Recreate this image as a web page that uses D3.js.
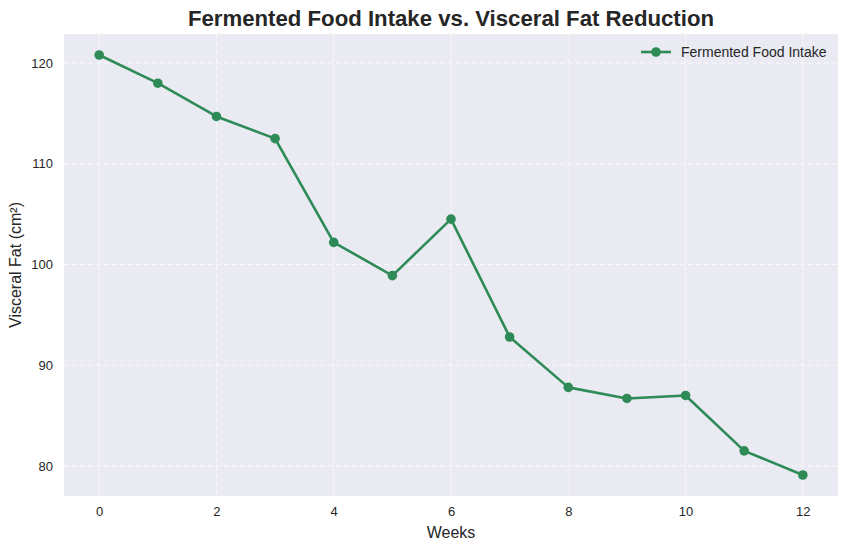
<!DOCTYPE html>
<html>
<head>
<meta charset="utf-8">
<script src="https://cdn.jsdelivr.net/npm/d3@7"></script>
<style>
  body { margin: 0; background: #fff; }
  text { font-family: "Liberation Sans", Arial, sans-serif; }
</style>
</head>
<body>
<svg id="chart" width="848" height="550"></svg>
<script>
// Data
const weeks = [0, 1, 2, 3, 4, 5, 6, 7, 8, 9, 10, 11, 12];
const visceralFat = [120.8, 118.0, 114.7, 112.5, 102.2, 98.9, 104.5, 92.8, 87.8, 86.7, 87.0, 81.5, 79.1];
const xTicks = [0, 2, 4, 6, 8, 10, 12];
const yTicks = [80, 90, 100, 110, 120];
const seriesName = "Fermented Food Intake";

const svg = d3.select("#chart");
const margin = { top: 34, right: 10, bottom: 54, left: 64 };
const width = 848 - margin.left - margin.right;
const height = 550 - margin.top - margin.bottom;

// matplotlib-like 5% padding
const xPad = (d3.max(weeks) - d3.min(weeks)) * 0.05;
const yExt = d3.extent(visceralFat);
const yPad = (yExt[1] - yExt[0]) * 0.05;

const x = d3.scaleLinear()
  .domain([d3.min(weeks) - xPad, d3.max(weeks) + xPad])
  .range([0, width]);
const y = d3.scaleLinear()
  .domain([yExt[0] - yPad, yExt[1] + yPad])
  .range([height, 0]);

const g = svg.append("g").attr("transform", `translate(${margin.left},${margin.top})`);

// Background
g.append("rect")
  .attr("width", width)
  .attr("height", height)
  .attr("fill", "#eaeaf2");

// Grid
g.append("g")
  .selectAll("line")
  .data(xTicks)
  .join("line")
    .attr("x1", d => x(d)).attr("x2", d => x(d))
    .attr("y1", 0).attr("y2", height)
    .attr("stroke", "#fff").attr("stroke-opacity", 0.7)
    .attr("stroke-dasharray", "5,3").attr("stroke-width", 1);
g.append("g")
  .selectAll("line")
  .data(yTicks)
  .join("line")
    .attr("x1", 0).attr("x2", width)
    .attr("y1", d => y(d)).attr("y2", d => y(d))
    .attr("stroke", "#fff").attr("stroke-opacity", 0.7)
    .attr("stroke-dasharray", "5,3").attr("stroke-width", 1);

// Axes (ticks only, no spines)
const xAxis = g.append("g")
  .attr("transform", `translate(0,${height})`)
  .call(d3.axisBottom(x).tickValues(xTicks).tickSize(0).tickPadding(11));
const yAxis = g.append("g")
  .call(d3.axisLeft(y).tickValues(yTicks).tickSize(0).tickPadding(11));
[xAxis, yAxis].forEach(a => {
  a.select(".domain").remove();
  a.selectAll("text")
    .attr("fill", "#262626")
    .style("font-size", "13px")
    .style("font-family", "'Liberation Sans', Arial, sans-serif");
});

// Line
const line = d3.line()
  .x((d, i) => x(weeks[i]))
  .y(d => y(d));

g.append("path")
  .datum(visceralFat)
  .attr("fill", "none")
  .attr("stroke", "#2e8b57")
  .attr("stroke-width", 2.6)
  .attr("stroke-linejoin", "round")
  .attr("d", line);

g.selectAll(".dot")
  .data(visceralFat)
  .join("circle")
    .attr("class", "dot")
    .attr("cx", (d, i) => x(weeks[i]))
    .attr("cy", d => y(d))
    .attr("r", 4.8)
    .attr("fill", "#2e8b57");

// Legend
const legend = g.append("g").attr("transform", `translate(${width - 197},18)`);
legend.append("line")
  .attr("x1", 0).attr("x2", 30)
  .attr("stroke", "#2e8b57").attr("stroke-width", 2.6);
legend.append("circle")
  .attr("cx", 15).attr("r", 4.8).attr("fill", "#2e8b57");
legend.append("text")
  .attr("x", 40).attr("dy", "0.35em")
  .attr("fill", "#262626")
  .style("font-size", "14px")
  .text(seriesName);

// Title
svg.append("text")
  .attr("x", margin.left + width / 2)
  .attr("y", 26)
  .attr("text-anchor", "middle")
  .attr("fill", "#262626")
  .style("font-size", "22.2px")
  .style("font-weight", "bold")
  .text("Fermented Food Intake vs. Visceral Fat Reduction");

// Axis labels
svg.append("text")
  .attr("x", margin.left + width / 2)
  .attr("y", 538)
  .attr("text-anchor", "middle")
  .attr("fill", "#262626")
  .style("font-size", "16px")
  .text("Weeks");

svg.append("text")
  .attr("transform", `translate(21,${margin.top + height / 2}) rotate(-90)`)
  .attr("text-anchor", "middle")
  .attr("fill", "#262626")
  .style("font-size", "16px")
  .text("Visceral Fat (cm²)");
</script>
</body>
</html>
